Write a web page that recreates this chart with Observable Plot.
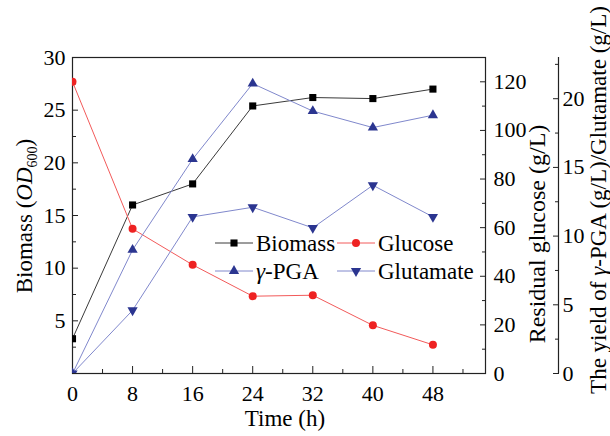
<!DOCTYPE html>
<html><head><meta charset="utf-8">
<script src="https://cdn.jsdelivr.net/npm/d3@7"></script>
<script src="https://cdn.jsdelivr.net/npm/@observablehq/plot@0.6"></script>
<style>body{margin:0;background:#fff} svg{font-family:"Liberation Serif","Times New Roman",serif}</style>
</head><body><div id="chart"></div>
<script>
// ---- data ----
const time = [0, 8, 16, 24, 32, 40, 48];
const biomass = [3.3, 16.0, 18.0, 25.4, 26.2, 26.1, 27.0];          // OD600
const glucose = [120, 59.5, 44.7, 31.8, 32.2, 19.8, 11.8];          // g/L
const pga = [0, 9.0, 15.6, 21.1, 19.1, 17.9, 18.8];                 // g/L
const glutamate = [0, 4.6, 11.4, 12.1, 10.6, 13.7, 11.4];           // g/L
const xTicks = [0, 8, 16, 24, 32, 40, 48];
const xMinor = [4, 12, 20, 28, 36, 44, 52];
const biomassTicks = [5, 10, 15, 20, 25, 30];
const biomassMinor = [2.5, 7.5, 12.5, 17.5, 22.5, 27.5];
const glucoseTicks = [0, 20, 40, 60, 80, 100, 120];
const glucoseMinor = [10, 30, 50, 70, 90, 110];
const yieldTicks = [0, 5, 10, 15, 20];
const yieldMinor = [2.5, 7.5, 12.5, 17.5, 22.5];
const seriesNames = ["Biomass", "Glucose", "γ-PGA", "Glutamate"];

const biomassMax = 30, glucoseMax = 130, yieldMax = 23, timeMax = 55;
const gS = v => v * biomassMax / glucoseMax;
const yS = v => v * biomassMax / yieldMax;

const rows = time.map((t, i) => ({t, biomass: biomass[i], glucose: glucose[i], pga: pga[i], glutamate: glutamate[i]}));

const C = {
  bioLine: "#3a3a3a", bioDot: "#000000",
  gluLine: "#f25a5a", gluDot: "#ee2222",
  blueLine: "#8088cc", blueDot: "#2b3590"
};
const FS = 22;

const plot = Plot.plot({
  width: 610, height: 436,
  marginLeft: 72, marginRight: 125, marginTop: 57, marginBottom: 63,
  x: {domain: [0, timeMax]},
  y: {domain: [0, biomassMax]},
  style: {fontFamily: "Liberation Serif, Times New Roman, serif", fontSize: FS + "px", background: "white", color: "black"},
  marks: [
    Plot.frame({stroke: "#222", strokeWidth: 1.2}),
    Plot.ruleX([timeMax], {dx: 73, stroke: "#222", strokeWidth: 1.2}),
    // x axis
    Plot.axisX(xTicks, {tickSize: -7, tickPadding: 19, label: null, fontSize: FS, fill: "black", stroke: "#222"}),
    Plot.axisX(xMinor, {tickSize: -4, fill: "none", label: null, stroke: "#222"}),
    // left biomass axis
    Plot.axisY(biomassTicks, {anchor: "left", tickSize: -6, tickPadding: 13, label: null, fontSize: FS, fill: "black", stroke: "#222"}),
    Plot.axisY(biomassMinor, {anchor: "left", tickSize: -4, fill: "none", label: null, stroke: "#222"}),
    // right glucose axis
    Plot.axisY(glucoseTicks, {anchor: "right", y: gS, tickSize: -6, tickPadding: 14, tickFormat: d => String(d), label: null, fontSize: FS, fill: "black", stroke: "#222"}),
    Plot.axisY(glucoseMinor, {anchor: "right", y: gS, tickSize: -4, fill: "none", label: null, stroke: "#222"}),
    // outer yield axis
    Plot.axisY(yieldTicks, {anchor: "right", y: yS, dx: 73, tickSize: -6, tickPadding: 10, tickFormat: d => String(d), label: null, fontSize: FS, fill: "black", stroke: "#222"}),
    Plot.axisY(yieldMinor, {anchor: "right", y: yS, dx: 73, tickSize: -4, fill: "none", label: null, stroke: "#222"}),
    // lines
    Plot.line(rows, {x: "t", y: "biomass", stroke: C.bioLine, strokeWidth: 1, clip: true}),
    Plot.line(rows, {x: "t", y: d => gS(d.glucose), stroke: C.gluLine, strokeWidth: 1, clip: true}),
    Plot.line(rows, {x: "t", y: d => yS(d.pga), stroke: C.blueLine, strokeWidth: 1, clip: true}),
    Plot.line(rows, {x: "t", y: d => yS(d.glutamate), stroke: C.blueLine, strokeWidth: 1, clip: true}),
    // markers
    Plot.dot(rows, {x: "t", y: d => yS(d.glutamate), symbol: "triangle", rotate: 180, r: 3.8, fill: C.blueDot, stroke: "none", clip: true}),
    Plot.dot(rows, {x: "t", y: d => yS(d.pga), symbol: "triangle", r: 3.8, fill: C.blueDot, stroke: "none", clip: true}),
    Plot.dot(rows, {x: "t", y: d => gS(d.glucose), symbol: "circle", r: 4, fill: C.gluDot, stroke: "none", clip: true}),
    Plot.dot(rows, {x: "t", y: "biomass", symbol: "square", r: 4, fill: C.bioDot, stroke: "none", clip: true})
  ]
});

const svg = d3.select(plot);
// axis titles
const lt = svg.append("text").attr("transform", "translate(32,216) rotate(-90)")
  .attr("text-anchor", "middle").attr("font-size", 23).attr("fill", "black");
lt.append("tspan").text("Biomass (");
lt.append("tspan").attr("font-style", "italic").text("OD");
lt.append("tspan").attr("font-size", 14).attr("dy", 5).text("600");
lt.append("tspan").attr("dy", -5).text(")");

svg.append("text").attr("transform", "translate(545,234) rotate(-90)")
  .attr("text-anchor", "middle").attr("font-size", 24).attr("fill", "black")
  .text("Residual glucose (g/L)");

const yt = svg.append("text").attr("transform", "translate(606,200) rotate(-90)")
  .attr("text-anchor", "middle").attr("font-size", 23).attr("fill", "black");
yt.append("tspan").text("The yield of ");
yt.append("tspan").attr("font-style", "italic").text("γ");
yt.append("tspan").text("-PGA (g/L)/Glutamate (g/L)");

svg.append("text").attr("x", 285).attr("y", 426).attr("text-anchor", "middle")
  .attr("font-size", 23).attr("fill", "black").text("Time (h)");

// legend
const legendItems = [
  {name: seriesNames[0], line: C.bioLine, dot: C.bioDot, sym: d3.symbolSquare, rot: 0, size: Math.PI * 16},
  {name: seriesNames[1], line: C.gluLine, dot: C.gluDot, sym: d3.symbolCircle, rot: 0, size: Math.PI * 16},
  {name: seriesNames[2], line: C.blueLine, dot: C.blueDot, sym: d3.symbolTriangle, rot: 0, size: Math.PI * 3.8 * 3.8},
  {name: seriesNames[3], line: C.blueLine, dot: C.blueDot, sym: d3.symbolTriangle, rot: 180, size: Math.PI * 3.8 * 3.8}
];
const lg = svg.append("g").attr("text-anchor", "start");
legendItems.forEach((it, i) => {
  const col = i % 2, row = Math.floor(i / 2);
  const x0 = 215 + col * 122, yy = 243 + row * 28;
  const g = lg.append("g").attr("transform", `translate(${x0},${yy})`);
  g.append("line").attr("x1", 0).attr("x2", 38).attr("y1", 0).attr("y2", 0).attr("stroke", it.line).attr("stroke-width", 1);
  g.append("path").attr("d", d3.symbol(it.sym, it.size)()).attr("fill", it.dot)
    .attr("transform", `translate(19,0) rotate(${it.rot})`);
  const t = g.append("text").attr("x", 41).attr("y", 8).attr("font-size", 23).attr("fill", "black").attr("text-anchor", "start");
  if (it.name.startsWith("γ")) {
    t.append("tspan").attr("font-style", "italic").text("γ");
    t.append("tspan").text(it.name.slice(1));
  } else t.text(it.name);
});

document.getElementById("chart").appendChild(plot);
</script>
</body></html>
